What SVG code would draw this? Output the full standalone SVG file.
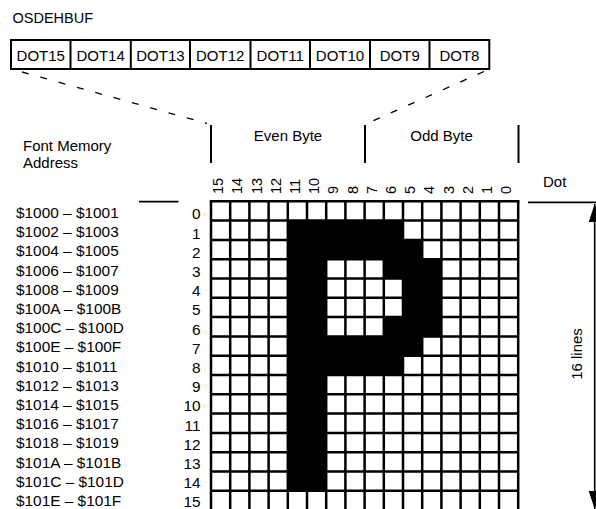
<svg xmlns="http://www.w3.org/2000/svg" width="596" height="509" viewBox="0 0 596 509">
<style>
text{font-family:"Liberation Sans",Arial,sans-serif;fill:#000}
.t15{font-size:15px}
.ad{font-size:15.4px}
.dot{font-size:15px;text-anchor:middle}
.box{fill:none;stroke:#000;stroke-width:2}
.dash{fill:none;stroke:#000;stroke-width:1.3;stroke-dasharray:7 12}
.tick{stroke:#000;stroke-width:2}
.grid{fill:none;stroke:#000;stroke-width:2.5}
.on{fill:#000}
.rl{font-size:15.4px;text-anchor:end}
.cl{font-size:14.5px}
</style>
<defs>
<marker id="ah" viewBox="0 0 18 12" refX="18" refY="6" markerWidth="18" markerHeight="12" markerUnits="userSpaceOnUse" orient="auto-start-reverse">
<path d="M0,0 L18,6 L0,12 Z" fill="#000"/>
</marker>
</defs>
<g id="title"><text class="t15" x="12.5" y="23.3" style="font-size:14.5px">OSDEHBUF</text></g>
<g id="register">
<rect class="box" x="11" y="40" width="478.3" height="29"/>
<path class="box" d="M70.5,40V69M130.8,40V69M190,40V69M250.5,40V69M310,40V69M370,40V69M429.5,40V69"/>
<text class="dot" x="40.8" y="60.5">DOT15</text>
<text class="dot" x="100.6" y="60.5">DOT14</text>
<text class="dot" x="160.4" y="60.5">DOT13</text>
<text class="dot" x="220.2" y="60.5">DOT12</text>
<text class="dot" x="280.2" y="60.5">DOT11</text>
<text class="dot" x="340" y="60.5">DOT10</text>
<text class="dot" x="399.8" y="60.5">DOT9</text>
<text class="dot" x="459.4" y="60.5">DOT8</text>
</g>
<g id="connectors">
<line class="dash" x1="22" y1="72" x2="207" y2="123.5"/>
<line class="dash" x1="484" y1="71.5" x2="367" y2="123.5"/>
<path class="tick" d="M211,125V163M365,125V163M518.5,125V163"/>
<line class="tick" x1="139" y1="201.7" x2="178.5" y2="201.7" style="stroke-width:1.8"/>
<line class="tick" x1="528" y1="202.3" x2="596" y2="202.3" style="stroke-width:1.8"/>
<line x1="594.7" y1="204" x2="594.7" y2="509" stroke="#000" stroke-width="1.6" marker-start="url(#ah)" marker-end="url(#ah)"/>
</g>
<g id="bytes">
<text class="t15" x="288" y="141" text-anchor="middle">Even Byte</text>
<text class="t15" x="441.5" y="141" text-anchor="middle">Odd Byte</text>
</g>
<g id="address-title">
<text class="t15" x="23" y="151">Font Memory</text>
<text class="t15" x="23" y="168">Address</text>
</g>
<g id="dot-label"><text class="t15" x="543" y="186.5">Dot</text></g>
<g id="lines-label"><text class="t15" transform="translate(581.5,354) rotate(-90)" text-anchor="middle">16 lines</text></g>
<g id="col-labels">
<text class="cl" transform="translate(223.1,194) rotate(-90)">15</text>
<text class="cl" transform="translate(242.3,194) rotate(-90)">14</text>
<text class="cl" transform="translate(261.5,194) rotate(-90)">13</text>
<text class="cl" transform="translate(280.7,194) rotate(-90)">12</text>
<text class="cl" transform="translate(299.9,194) rotate(-90)">11</text>
<text class="cl" transform="translate(319.1,194) rotate(-90)">10</text>
<text class="cl" transform="translate(338.3,194) rotate(-90)">9</text>
<text class="cl" transform="translate(357.5,194) rotate(-90)">8</text>
<text class="cl" transform="translate(376.7,194) rotate(-90)">7</text>
<text class="cl" transform="translate(395.9,194) rotate(-90)">6</text>
<text class="cl" transform="translate(415.1,194) rotate(-90)">5</text>
<text class="cl" transform="translate(434.3,194) rotate(-90)">4</text>
<text class="cl" transform="translate(453.5,194) rotate(-90)">3</text>
<text class="cl" transform="translate(472.7,194) rotate(-90)">2</text>
<text class="cl" transform="translate(491.9,194) rotate(-90)">1</text>
<text class="cl" transform="translate(511.1,194) rotate(-90)">0</text>
</g>
<g id="row-labels">
<text class="rl" x="200.5" y="219.3">0</text>
<text class="rl" x="200.5" y="238.5">1</text>
<text class="rl" x="200.5" y="257.7">2</text>
<text class="rl" x="200.5" y="276.9">3</text>
<text class="rl" x="200.5" y="296.1">4</text>
<text class="rl" x="200.5" y="315.3">5</text>
<text class="rl" x="200.5" y="334.5">6</text>
<text class="rl" x="200.5" y="353.7">7</text>
<text class="rl" x="200.5" y="372.9">8</text>
<text class="rl" x="200.5" y="392.1">9</text>
<text class="rl" x="200.5" y="411.3">10</text>
<text class="rl" x="200.5" y="430.5">11</text>
<text class="rl" x="200.5" y="449.7">12</text>
<text class="rl" x="200.5" y="468.9">13</text>
<text class="rl" x="200.5" y="488.1">14</text>
<text class="rl" x="200.5" y="507.3">15</text>
</g>
<g id="addresses">
<text class="ad" x="16" y="218">$1000 – $1001</text>
<text class="ad" x="16" y="237.2">$1002 – $1003</text>
<text class="ad" x="16" y="256.4">$1004 – $1005</text>
<text class="ad" x="16" y="275.6">$1006 – $1007</text>
<text class="ad" x="16" y="294.8">$1008 – $1009</text>
<text class="ad" x="16" y="314">$100A – $100B</text>
<text class="ad" x="16" y="333.2">$100C – $100D</text>
<text class="ad" x="16" y="352.4">$100E – $100F</text>
<text class="ad" x="16" y="371.6">$1010 – $1011</text>
<text class="ad" x="16" y="390.8">$1012 – $1013</text>
<text class="ad" x="16" y="410">$1014 – $1015</text>
<text class="ad" x="16" y="429.2">$1016 – $1017</text>
<text class="ad" x="16" y="448.4">$1018 – $1019</text>
<text class="ad" x="16" y="467.6">$101A – $101B</text>
<text class="ad" x="16" y="486.8">$101C – $101D</text>
<text class="ad" x="16" y="506">$101E – $101F</text>
</g>
<g id="grid">
<rect x="211" y="201.3" width="307.2" height="310" fill="#fff"/>
<rect class="on" x="287.8" y="220.6" width="38.4" height="270.2"/>
<rect class="on" x="326.2" y="220.6" width="76.8" height="19.3"/>
<rect class="on" x="326.2" y="239.9" width="96" height="19.3"/>
<rect class="on" x="383.8" y="259.2" width="57.6" height="19.3"/>
<rect class="on" x="403" y="278.5" width="38.4" height="38.6"/>
<rect class="on" x="383.8" y="317.1" width="57.6" height="19.3"/>
<rect class="on" x="326.2" y="336.4" width="96" height="19.3"/>
<rect class="on" x="326.2" y="355.7" width="76.8" height="19.3"/>
<path class="grid" d="M211,201.3V512M230.2,201.3V512M249.4,201.3V512M268.6,201.3V512M287.8,201.3V512M307,201.3V512M326.2,201.3V512M345.4,201.3V512M364.6,201.3V512M383.8,201.3V512M403,201.3V512M422.2,201.3V512M441.4,201.3V512M460.6,201.3V512M479.8,201.3V512M499,201.3V512M518.2,201.3V512"/>
<path class="grid" d="M209.75,201.3H519.45M211,220.6H518.2M211,239.9H518.2M211,259.2H518.2M211,278.5H518.2M211,297.8H518.2M211,317.1H518.2M211,336.4H518.2M211,355.7H518.2M211,375H518.2M211,394.3H518.2M211,413.6H518.2M211,432.9H518.2M211,452.2H518.2M211,471.5H518.2M211,490.8H518.2"/>
</g>
</svg>
